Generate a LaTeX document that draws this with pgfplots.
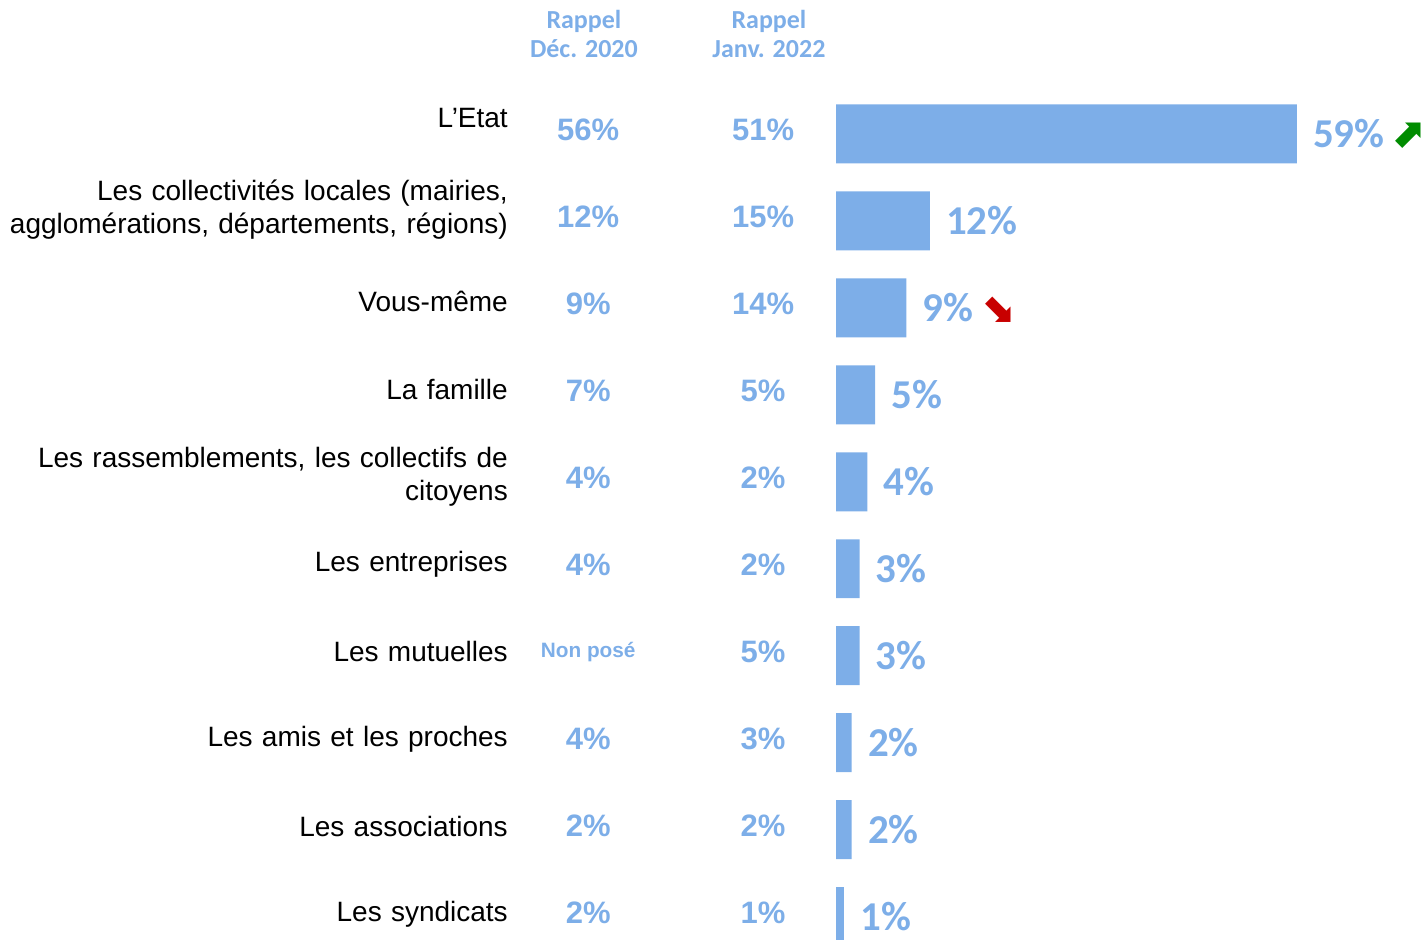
\documentclass[border=0pt]{standalone}
\usepackage{pgfplots}
\pgfplotsset{compat=1.18}
\usepackage{fontspec}
\setmainfont{Liberation Sans}
\newfontfamily\calibri{Carlito}
\newfontfamily\symb{DejaVu Sans}
\definecolor{barblue}{RGB}{125,174,232}
\definecolor{upgreen}{RGB}{0,140,0}
\definecolor{downred}{RGB}{200,0,0}
\newcommand{\up}{\textcolor{upgreen}{\symb\bfseries ⬈}}
\newcommand{\down}{\textcolor{downred}{\symb\bfseries ⬊}}

\begin{document}
\begin{tikzpicture}
\begin{axis}[
    scale only axis,
    width=458.5pt, height=470pt,
    xmin=-42, xmax=75.4,
    ymin=-0.264, ymax=10.54,
    axis line style={draw=none},
    xtick=\empty,
    ytick={0.023,1.034,2.034,3.046,4.046,5.057,6.057,7.069,8.126,9.18},
    yticklabels={
        {Les syndicats},
        {Les associations},
        {Les amis et les proches},
        {Les mutuelles},
        {Les entreprises},
        {Les rassemblements, les collectifs de\\citoyens},
        {La famille},
        {Vous-même},
        {Les collectivités locales (mairies,\\agglomérations, départements, régions)},
        {L’Etat}},
    major tick length=0pt,
    % fixed text width keeps the left margin of the reference
    yticklabel style={font=\fontsize{14}{16.5}\selectfont, align=right,
        text width=254pt, anchor=east, inner sep=0pt},
]
  % bars for the current wave
  \addplot[xbar, bar width=29.5pt, fill=barblue, draw=none,
      nodes near coords, point meta=explicit symbolic,
      every node near coord/.append style={anchor=west, inner sep=0pt,
          xshift=8pt, text=barblue,
          font=\calibri\bfseries\fontsize{20.5}{24}\selectfont}]
    coordinates {
      (59,9) [{59\%\hspace{3pt}\rlap{\up}}]
      (12,8) [{12\%}]
      (9,7)  [{9\%\hspace{3.5pt}\down}]
      (5,6)  [{5\%}]
      (4,5)  [{4\%}]
      (3,4)  [{3\%}]
      (3,3)  [{3\%}]
      (2,2)  [{2\%}]
      (2,1)  [{2\%}]
      (1,0)  [{1\%}]
    };
  % Rappel Dec. 2020
  \addplot[draw=none, mark=none, nodes near coords, point meta=explicit symbolic,
      every node near coord/.append style={anchor=center, inner sep=0pt,
          yshift=2pt, text=barblue,
          font=\bfseries\fontsize{15.5}{18}\selectfont}]
    coordinates {
      (-31.75,9) [{56\%}]
      (-31.75,8) [{12\%}]
      (-31.75,7) [{9\%}]
      (-31.75,6) [{7\%}]
      (-31.75,5) [{4\%}]
      (-31.75,4) [{4\%}]
      (-31.75,3) [{\fontsize{10.4}{12}\selectfont Non posé}]
      (-31.75,2) [{4\%}]
      (-31.75,1) [{2\%}]
      (-31.75,0) [{2\%}]
    };
  % Rappel Janv. 2022
  \addplot[draw=none, mark=none, nodes near coords, point meta=explicit symbolic,
      every node near coord/.append style={anchor=center, inner sep=0pt,
          yshift=2pt, text=barblue,
          font=\bfseries\fontsize{15.5}{18}\selectfont}]
    coordinates {
      (-9.35,9) [{51\%}]
      (-9.35,8) [{15\%}]
      (-9.35,7) [{14\%}]
      (-9.35,6) [{5\%}]
      (-9.35,5) [{2\%}]
      (-9.35,4) [{2\%}]
      (-9.35,3) [{5\%}]
      (-9.35,2) [{3\%}]
      (-9.35,1) [{2\%}]
      (-9.35,0) [{1\%}]
    };
  % column headers
  \addplot[draw=none, mark=none, nodes near coords, point meta=explicit symbolic,
      every node near coord/.append style={anchor=center, inner sep=0pt,
          align=center, text=barblue,
          font=\calibri\bfseries\fontsize{13}{14.5}\selectfont}]
    coordinates {
      (-32.3,10.15) [{Rappel\\Déc. 2020}]
      (-8.6,10.15)  [{Rappel\\Janv. 2022}]
    };
\end{axis}
\end{tikzpicture}
\end{document}
